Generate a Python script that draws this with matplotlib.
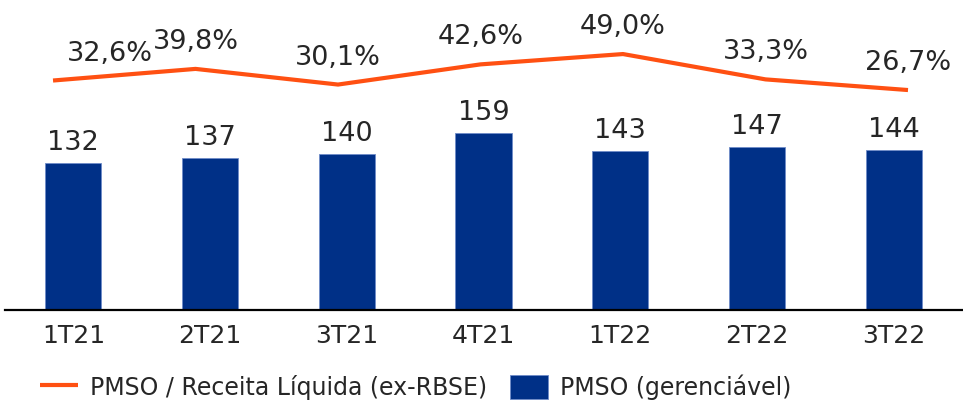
import matplotlib.pyplot as plt
import numpy as np

quarters = ["1T21", "2T21", "3T21", "4T21", "1T22", "2T22", "3T22"]
pmso = [132, 137, 140, 159, 143, 147, 144]
ratio = [32.6, 39.8, 30.1, 42.6, 49.0, 33.3, 26.7]

BAR = "#003087"
LINE = "#FF5012"
TXT = "#262626"

plt.rcParams["font.family"] = "DejaVu Sans"

fig = plt.figure(figsize=(9.63, 4.04), dpi=100)
rect = [5 / 963, 94 / 404, 957 / 963, 290 / 404]

ax = fig.add_axes(rect)
x = np.arange(len(quarters))
bars = ax.bar(x, pmso, width=0.41, color=BAR, edgecolor="#6f8cc8", linewidth=0.6,
              label="PMSO (gerenciável)")
ax.set_xlim(-0.5, 6.5)
ax.set_ylim(0, 261)
for xi, v in zip(x, pmso):
    ax.annotate(str(v), (xi, v), xytext=(0, 7), textcoords="offset pixels",
                ha="center", va="bottom", fontsize=19.5, color=TXT)
ax.set_xticks(x)
ax.set_xticklabels(quarters, fontsize=18, color=TXT)
ax.tick_params(axis="x", length=0, pad=10)
ax.set_yticks([])
for s in ["top", "right", "left"]:
    ax.spines[s].set_visible(False)
ax.spines["bottom"].set_linewidth(1.6)
ax.spines["bottom"].set_color("black")

# line sits on its own category scale
ax2 = fig.add_axes(rect, frameon=False)
ax2.plot(x, ratio, color=LINE, lw=3, label="PMSO / Receita Líquida (ex-RBSE)",
         solid_capstyle="butt")
ax2.set_xlim(-0.337, 6.379)
ax2.set_ylim(-109.6, 70.1)
ax2.set_xticks([])
ax2.set_yticks([])
for i, (xi, v) in enumerate(zip(x, ratio)):
    dx = 57 if i == 0 else 0
    ax2.annotate(f"{v:.1f}%".replace(".", ","), (xi, v), xytext=(dx, 27),
                 textcoords="offset pixels", ha="center", va="center",
                 fontsize=19.5, color=TXT)

h1, l1 = ax2.get_legend_handles_labels()
h2, l2 = ax.get_legend_handles_labels()
fig.legend(h1 + h2, l1 + l2, loc="center left", bbox_to_anchor=(40 / 963, 1 - 387 / 404),
           ncol=2, frameon=False, fontsize=17, handlelength=1.6, handleheight=1.2,
           columnspacing=1.0, handletextpad=0.5, labelcolor=TXT, borderpad=0,
           borderaxespad=0)

fig.savefig("out.png", dpi=100)
